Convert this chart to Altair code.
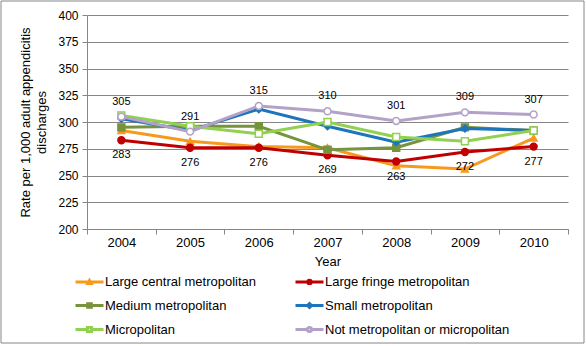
import altair as alt
import pandas as pd

years = ["2004", "2005", "2006", "2007", "2008", "2009", "2010"]
series = [
    "Large central metropolitan",
    "Large fringe metropolitan",
    "Medium metropolitan",
    "Small metropolitan",
    "Micropolitan",
    "Not metropolitan or micropolitan",
]
large_central = [292, 282, 277, 276, 259, 256, 285]
large_fringe = [283, 276, 276, 269, 263, 272, 277]
medium = [295, 296, 296, 274, 276, 295, 292]
small = [303, 292, 312, 296, 281, 294, 292]
micro = [306, 296, 289, 300, 286, 282, 292]
not_metro = [305, 291, 315, 310, 301, 309, 307]
y_ticks = [200, 225, 250, 275, 300, 325, 350, 375, 400]

colors = ["#F7991C", "#C00000", "#77933C", "#1E75BB", "#92D050", "#B3A2C7"]
fills = ["#F7991C", "#C00000", "#77933C", "#1E75BB", "#FFFFFF", "#FFFFFF"]
marker_shapes = ["triangle-up", "circle", "square", "diamond", "square", "circle"]
legend_paths = [
    "M-1,0H1M0,-0.12L0.12,0.09L-0.12,0.09Z",
    "M-1,0H1M0.12,0A0.12,0.12 0 1,1 -0.12,0A0.12,0.12 0 1,1 0.12,0Z",
    "M-1,0H1M-0.13,-0.13H0.13V0.13H-0.13Z",
    "M-1,0H1M0,-0.14L0.14,0L0,0.14L-0.14,0Z",
    "M-1,0H-0.15M0.15,0H1M-0.15,-0.15H0.15V0.15H-0.15Z",
    "M-1,0H-0.15M0.15,0H1M0.15,0A0.15,0.15 0 1,1 -0.15,0A0.15,0.15 0 1,1 0.15,0Z",
]

values = [large_central, large_fringe, medium, small, micro, not_metro]
rows = []
for s, vals in zip(series, values):
    for yr, v in zip(years, vals):
        rows.append({"Series": s, "Year": yr, "Value": v})
df = pd.DataFrame(rows)

FONT = "Liberation Sans"
GRID = "#868686"

x_enc = alt.X(
    "Year:O",
    sort=years,
    scale=alt.Scale(type="band", paddingInner=0, paddingOuter=0),
    axis=alt.Axis(
        title="Year", labelAngle=0, tickBand="extent", tickSize=5,
        domainColor=GRID, tickColor=GRID, labelFontSize=13, titleFontSize=13,
        titleFontWeight="normal", titlePadding=6, labelColor="#000000",
        titleColor="#000000", labelFont=FONT, titleFont=FONT, grid=False,
    ),
)
y_enc = alt.Y(
    "Value:Q",
    scale=alt.Scale(domain=[200, 400], nice=False, zero=False),
    axis=alt.Axis(
        values=y_ticks, title=["Rate per 1,000 adult appendicitis", "discharges"],
        grid=True, gridColor=GRID, domainColor=GRID, tickColor=GRID, tickSize=5,
        labelPadding=4, labelFontSize=12, titleFontSize=13, titleFontWeight="normal",
        titlePadding=9, titleLineHeight=16, labelColor="#000000", titleColor="#000000",
        labelFont=FONT, titleFont=FONT,
    ),
)

stroke_scale = alt.Scale(domain=series, range=colors)
fill_scale = alt.Scale(domain=series, range=fills)
shape_scale = alt.Scale(domain=series, range=legend_paths)

base = alt.Chart(df)

series_layers = []
for s, col, fc, shp in zip(series, colors, fills, marker_shapes):
    sub = base.transform_filter(alt.datum.Series == s)
    series_layers.append(
        sub.mark_line(strokeWidth=3, color=col).encode(x=x_enc, y=y_enc)
    )
    series_layers.append(
        sub.mark_point(filled=False, strokeWidth=1.5, size=48, opacity=1, shape=shp,
                       stroke=col, fill=fc).encode(x=x_enc, y=y_enc)
    )

labels_top = base.mark_text(dy=-15, fontSize=11, font=FONT, color="#000000").encode(
    x=x_enc, y=y_enc, text=alt.Text("Value:Q", format="d"),
).transform_filter(alt.datum.Series == series[5])

labels_bottom = base.mark_text(dy=15, fontSize=11, font=FONT, color="#000000").encode(
    x=x_enc, y=y_enc, text=alt.Text("Value:Q", format="d"),
).transform_filter(alt.datum.Series == series[1])

leg = alt.Legend(
    title=None, orient="none", legendX=-13, legendY=251, columns=2, direction="horizontal",
    columnPadding=32, rowPadding=0, symbolSize=784, symbolStrokeWidth=3,
    labelFontSize=13, labelFont=FONT, labelOffset=0, padding=0,
    labelColor="#000000", labelLimit=400,
)
legend_layer = base.mark_point(filled=False, strokeWidth=3, opacity=1).encode(
    stroke=alt.Stroke("Series:N", scale=stroke_scale, legend=leg),
    fill=alt.Fill("Series:N", scale=fill_scale, legend=leg),
    shape=alt.Shape("Series:N", scale=shape_scale, legend=leg),
).transform_filter("false")

frame = alt.Chart(pd.DataFrame({"f": [0]})).mark_rect(
    filled=False, stroke=GRID, strokeWidth=1
).encode(
    x=alt.value(-86), x2=alt.value(497), y=alt.value(-14), y2=alt.value(328)
)

chart = alt.layer(frame, *series_layers, labels_top, labels_bottom, legend_layer).properties(
    width=481, height=214,
    autosize=alt.AutoSizeParams(type="none"),
    padding={"left": 87, "top": 15, "right": 18, "bottom": 117},
    background="#FFFFFF",
).configure_view(stroke=None)

chart.save("out.html", embed_options={"renderer": "svg", "actions": False})
